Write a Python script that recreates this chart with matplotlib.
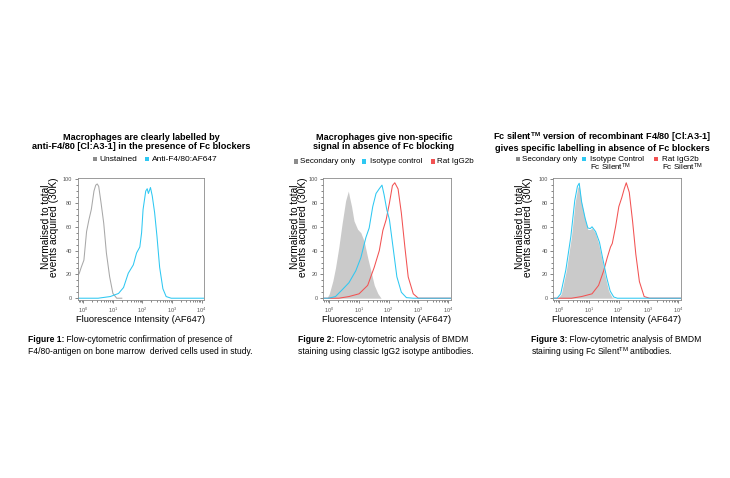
import numpy as np
import matplotlib
matplotlib.use("Agg")
import matplotlib.pyplot as plt
from matplotlib.patches import Rectangle
from matplotlib.ticker import MultipleLocator, LogLocator

plt.rcParams['font.family'] = ['Liberation Sans', 'DejaVu Sans']
plt.rcParams['mathtext.fontset'] = 'custom'
plt.rcParams['mathtext.rm'] = 'Liberation Sans'
plt.rcParams['mathtext.bf'] = 'Liberation Sans:bold'
plt.rcParams['mathtext.it'] = 'Liberation Sans:italic'

# ---- data (x given as log10 of fluorescence intensity, y = normalised count) ----
p1_unst_x = [-0.3, -0.14, -0.07, 0.02, 0.11, 0.19, 0.27, 0.36, 0.42, 0.47, 0.52, 0.6, 0.69, 0.78, 0.89, 1.0, 1.13, 1.3]
p1_unst_y = [16, 20.7, 26, 32, 56, 66, 74.5, 90, 95, 96, 94, 80, 63, 38, 18, 4, 0, 0]
p1_f480_x = [-0.3, 0.5, 0.91, 1.19, 1.36, 1.52, 1.69, 1.8, 1.91, 1.97, 2.02, 2.11, 2.16, 2.2, 2.27, 2.33, 2.41, 2.49, 2.58, 2.69, 2.8, 2.97, 4.1]
p1_f480_y = [0, 0, 1.4, 4, 9, 21, 28, 38, 43, 55, 74.5, 90, 92, 88, 93, 86, 72, 52, 26, 8, 1.4, 0, 0]

p2_sec_x = [-0.3, -0.07, 0.01, 0.13, 0.22, 0.33, 0.44, 0.56, 0.65, 0.69, 0.76, 0.84, 0.96, 1.07, 1.18, 1.3, 1.41, 1.52, 1.64, 1.75, 1.88]
p2_sec_y = [0, 0, 3.7, 14.5, 25.6, 42.6, 62.5, 82, 90, 85, 77, 65, 58, 55, 48, 34, 22.7, 11, 4, 0, 0]
p2_iso_x = [-0.3, -0.01, 0.22, 0.44, 0.67, 0.9, 1.07, 1.24, 1.35, 1.47, 1.58, 1.69, 1.78, 1.85, 1.94, 2.03, 2.15, 2.28, 2.43, 2.6, 2.83, 4.1]
p2_iso_y = [0, 0, 1.4, 7, 13, 23, 34, 51, 59, 77, 88, 92, 95, 87, 74.5, 66, 43, 18, 5, 0.5, 0, 0]
p2_rat_x = [-0.3, 0.33, 0.67, 1.01, 1.3, 1.52, 1.69, 1.81, 1.92, 2.03, 2.13, 2.21, 2.32, 2.43, 2.55, 2.66, 2.83, 3.0, 4.1]
p2_rat_y = [0, 0, 1.4, 3.7, 10.8, 26, 40, 57, 66, 80, 94.6, 97, 91.8, 71.6, 42.6, 17.9, 3.7, 0, 0]

p3_sec_x = [-0.3, -0.03, 0.08, 0.25, 0.42, 0.54, 0.63, 0.68, 0.76, 0.88, 0.97, 1.05, 1.11, 1.22, 1.33, 1.45, 1.56, 1.67, 1.79, 1.91]
p3_sec_y = [0, 0, 3.7, 23.6, 52, 80, 93, 94.6, 80, 66, 57.7, 57.7, 59, 55, 46, 31.8, 17.6, 6, 0.5, 0]
p3_iso_x = [-0.3, -0.06, 0.06, 0.23, 0.4, 0.53, 0.62, 0.68, 0.76, 0.88, 0.97, 1.05, 1.11, 1.23, 1.36, 1.48, 1.6, 1.72, 1.84, 1.96, 4.1]
p3_iso_y = [0, 0, 3.7, 23.6, 52, 82, 94, 96.6, 81, 67, 59, 58.5, 60, 56, 47, 32, 17.6, 6, 1, 0, 0]
p3_rat_x = [-0.3, 0.42, 0.76, 1.11, 1.33, 1.5, 1.62, 1.73, 1.79, 1.9, 2.01, 2.11, 2.19, 2.26, 2.36, 2.47, 2.58, 2.7, 2.86, 3.04, 4.1]
p3_rat_y = [0, 0, 1.4, 3.7, 10.8, 23, 34, 43, 46, 60, 77, 84.6, 91.8, 97, 89, 65, 37, 14, 1.4, 0, 0]

yticks = [0, 20, 40, 60, 80, 100]

titles = ["Macrophages are clearly labelled by\nanti-F4/80 [Cl:A3-1] in the presence of Fc blockers",
          "Macrophages give non-specific\nsignal in absence of Fc blocking",
          "Fc silent$^{\\mathbf{TM}}$ version of recombinant F4/80 [Cl:A3-1]\ngives specific labelling in absence of Fc blockers"]

GRAY_LINE = '#a8a8a8'
GRAY_FILL = '#cacaca'
CYAN = '#2ec8f2'
RED = '#f25252'

W, H = 730, 478
fig = plt.figure(figsize=(7.3, 4.78), dpi=100)


def fx(px):
    return px / W


def fy(py):
    return 1 - py / H


def make_axes(left, right, top, bottom):
    ax = fig.add_axes([fx(left), fy(bottom), (right - left) / W, (bottom - top) / H])
    ax.set_xscale('log')
    ax.set_xlim(10 ** -0.19, 10 ** 4.08)
    ax.set_ylim(-1.5, 101)
    ax.set_yticks(yticks)
    ax.yaxis.set_minor_locator(MultipleLocator(5))
    ax.xaxis.set_major_locator(LogLocator(base=10, numticks=10))
    ax.xaxis.set_minor_locator(LogLocator(base=10, subs=np.arange(2, 10), numticks=10))
    ax.tick_params(which='both', direction='out', width=0.5, colors='#555555', labelsize=4, pad=1.5)
    ax.tick_params(which='major', length=2.5)
    ax.tick_params(which='minor', length=1.3)
    for s in ax.spines.values():
        s.set_color('#8a8a8a')
        s.set_linewidth(0.6)
    return ax


lw = 0.75
# panel 1
ax1 = make_axes(77.7, 204, 178, 300)
ax1.plot(np.power(10.0, p1_unst_x), p1_unst_y, color=GRAY_LINE, lw=lw)
ax1.plot(np.power(10.0, p1_f480_x), p1_f480_y, color=CYAN, lw=lw)

# panel 2
ax2 = make_axes(323.3, 450.5, 178, 300)
ax2.fill_between(np.power(10.0, p2_sec_x), p2_sec_y, 0, color=GRAY_FILL, lw=0)
ax2.plot(np.power(10.0, p2_rat_x), p2_rat_y, color=RED, lw=lw)
ax2.plot(np.power(10.0, p2_iso_x), p2_iso_y, color=CYAN, lw=lw)

# panel 3
ax3 = make_axes(553.3, 680.5, 178, 300)
ax3.fill_between(np.power(10.0, p3_sec_x), p3_sec_y, 0, color=GRAY_FILL, lw=0)
ax3.plot(np.power(10.0, p3_rat_x), p3_rat_y, color=RED, lw=lw)
ax3.plot(np.power(10.0, p3_iso_x), p3_iso_y, color=CYAN, lw=lw)

# titles
for cx, t in zip([141, 384, 602], titles):
    fig.text(fx(cx), fy(141.7), t, ha='center', va='center', fontsize=6.6,
             fontweight='bold', linespacing=1.0)

# axis labels
for cx in [141, 387, 617]:
    fig.text(fx(cx), fy(319), "Fluorescence Intensity (AF647)", ha='center', va='center', fontsize=6.7)
for cx in [50, 299, 524]:
    fig.text(fx(cx), fy(227), "Normalised to total\nevents acquired (30K)", ha='center', va='center',
             rotation=90, fontsize=7.3, linespacing=0.85)


# legends
def legend_item(sx, tx, py, color, label, size, sq=4.2):
    fig.add_artist(Rectangle((fx(sx), fy(py + sq / 2)), sq / W, sq / H, color=color,
                             transform=fig.transFigure, lw=0))
    fig.text(fx(tx), fy(py), label, ha='left', va='center', fontsize=size)


legend_item(92.5, 99, 159.3, '#8c8c8c', "Unstained", 6.0)
legend_item(145, 152, 159.3, CYAN, "Anti-F4/80:AF647", 6.0)

legend_item(294, 300.5, 161.5, '#8c8c8c', "Secondary only", 5.8)
legend_item(362, 369.5, 161.5, CYAN, "Isotype control", 5.8)
legend_item(430.5, 437, 161.5, RED, "Rat IgG2b", 5.8)

legend_item(515.5, 522, 159.3, '#8c8c8c', "Secondary only", 5.8)
legend_item(581.5, 589.5, 159.3, CYAN, "Isotype Control", 5.8)
legend_item(654, 661.5, 159.3, RED, "Rat IgG2b", 5.8)
fig.text(fx(589.5), fy(167.7), "Fc Silent$^{\\mathrm{TM}}$", ha='left', va='center', fontsize=5.8)
fig.text(fx(661.5), fy(167.7), "Fc Silent$^{\\mathrm{TM}}$", ha='left', va='center', fontsize=5.8)

# captions
renderer = fig.canvas.get_renderer()
captions = [
    (28, "Figure 1:", " Flow-cytometric confirmation of presence of",
     "F4/80-antigen on bone marrow  derived cells used in study."),
    (298, "Figure 2:", " Flow-cytometric analysis of BMDM",
     "staining using classic IgG2 isotype antibodies."),
    (531, "Figure 3:", " Flow-cytometric analysis of BMDM",
     "staining using Fc Silent$^{\\mathrm{TM}}$ antibodies."),
]
csize = 6.15
for x0, bold, rest, line2 in captions:
    tb = fig.text(fx(x0), fy(339), bold, ha='left', va='center', fontsize=csize, fontweight='bold')
    bb = tb.get_window_extent(renderer)
    fig.text(bb.x1 / fig.bbox.width, fy(339), rest, ha='left', va='center', fontsize=csize)
    fig.text(fx(x0), fy(352), line2, ha='left', va='center', fontsize=csize)

fig.savefig("out.png", dpi=100)
